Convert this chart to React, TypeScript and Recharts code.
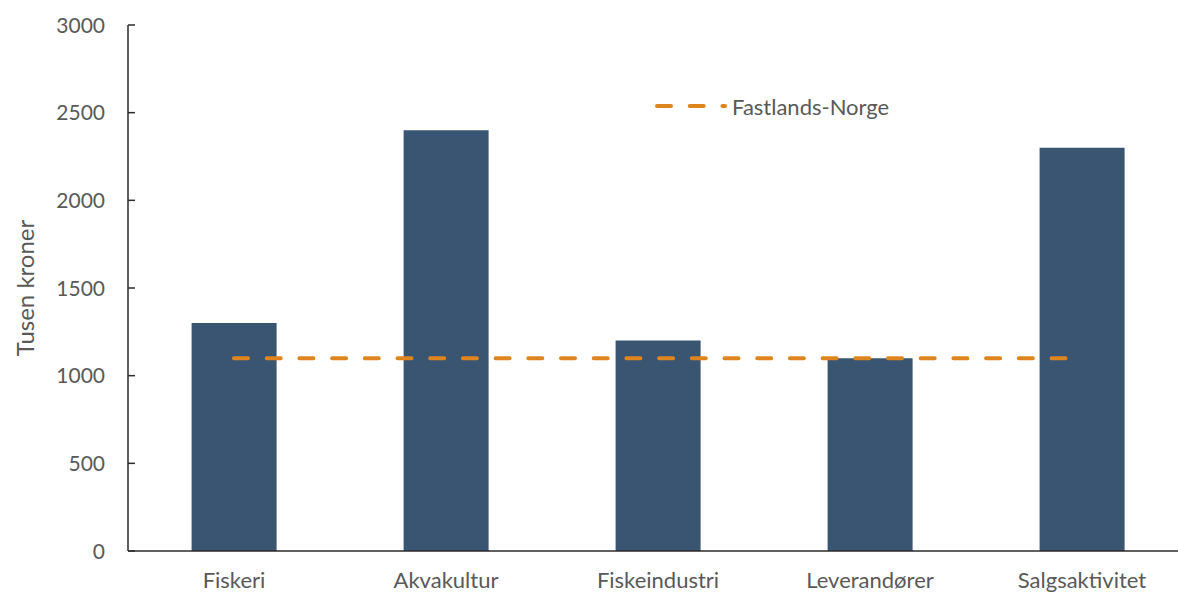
import { ComposedChart, Bar, Line, XAxis, YAxis } from 'recharts';

const categories = ['Fiskeri', 'Akvakultur', 'Fiskeindustri', 'Leverandører', 'Salgsaktivitet'];
const perEmployee = [1300, 2400, 1200, 1100, 2300];
const mainland = [1100, 1100, 1100, 1100, 1100];
const yTicks = [0, 500, 1000, 1500, 2000, 2500, 3000];

const BAR = '#395571';
const ORANGE = '#DE8520';
const TEXT = '#595959';
const AXIS = '#2b2b2b';
const FONT = 'Lato, "Open Sans", sans-serif';
const DASH = '14 18.7';

const data = categories.map((name, i) => ({
  name,
  value: perEmployee[i],
  norge: mainland[i],
}));

function YTick(props: any) {
  const { x, y, payload } = props;
  return (
    <g>
      <line x1={x + 23} x2={x + 30} y1={y} y2={y} stroke={AXIS} strokeWidth={1.5} />
      <text x={x} y={y} dy="0.36em" textAnchor="end" fill={TEXT} fontSize={21} fontFamily={FONT}>
        {payload.value}
      </text>
    </g>
  );
}

export default function App() {
  return (
    <div style={{ position: 'fixed', left: 0, top: 0, width: 1178, height: 592, overflow: 'hidden', background: '#fff' }}>
      <ComposedChart
        width={1190}
        height={592}
        data={data}
        margin={{ top: 25, right: 2, left: 0, bottom: 0 }}
        barCategoryGap="30%"
      >
        <XAxis
          dataKey="name"
          height={41}
          tickLine={false}
          tickSize={0}
          tickMargin={21}
          axisLine={{ stroke: AXIS, strokeWidth: 1.5 }}
          tick={{ fill: TEXT, fontSize: 22, fontFamily: FONT }}
          interval={0}
        />
        <YAxis
          width={128}
          domain={[0, 3000]}
          ticks={yTicks}
          interval={0}
          tickLine={false}
          tickSize={0}
          tickMargin={23}
          axisLine={{ stroke: AXIS, strokeWidth: 1.5 }}
          tick={<YTick />}
          label={{
            value: 'Tusen kroner',
            angle: -90,
            position: 'insideLeft',
            offset: 25,
            style: { textAnchor: 'middle', fill: TEXT, fontSize: 24, fontFamily: FONT },
          }}
        />
        <Bar dataKey="value" fill={BAR} isAnimationActive={false} legendType="none" />
        <Line
          type="linear"
          dataKey="norge"
          stroke={ORANGE}
          strokeWidth={4}
          strokeDasharray={DASH}
          strokeLinecap="round"
          dot={false}
          activeDot={false}
          isAnimationActive={false}
        />
      </ComposedChart>
      <div
        style={{
          position: 'absolute',
          left: 655,
          top: 93,
          display: 'flex',
          alignItems: 'center',
          fontFamily: FONT,
          fontSize: 22,
          color: TEXT,
          height: 26,
        }}
      >
        <svg width={74} height={10}>
          <line x1={2} x2={70} y1={5} y2={5} stroke={ORANGE} strokeWidth={4} strokeDasharray={DASH} strokeLinecap="round" />
        </svg>
        <span style={{ marginLeft: 3 }}>Fastlands-Norge</span>
      </div>
    </div>
  );
}
